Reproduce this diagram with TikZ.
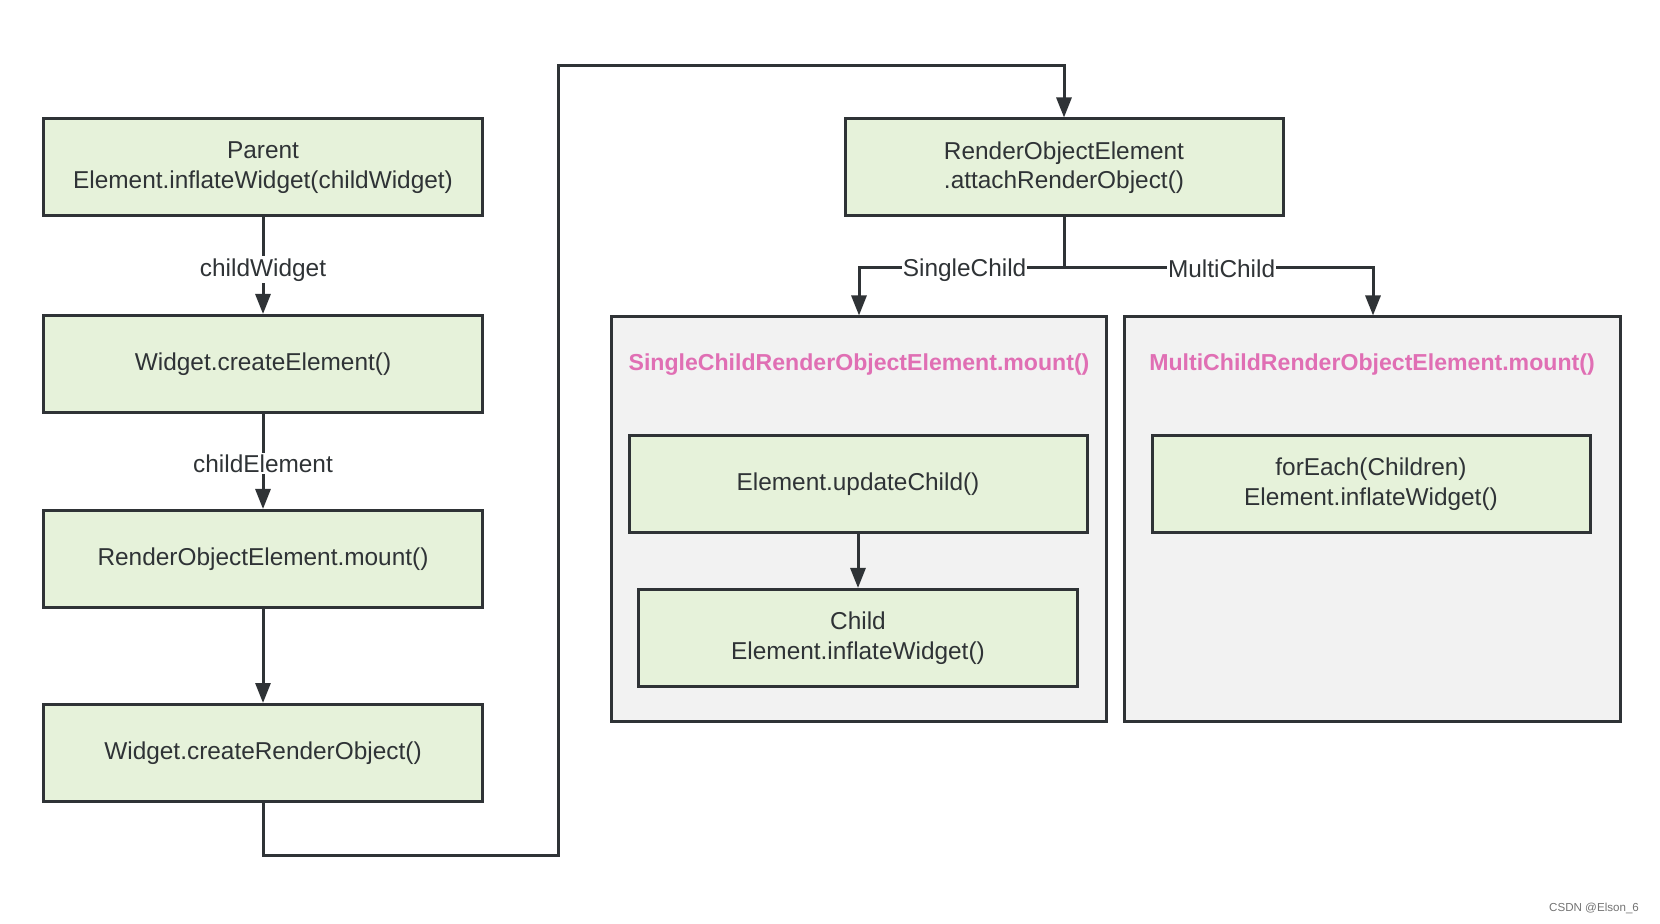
\documentclass[tikz,border=0pt]{standalone}
\usepackage{fontspec}
\setmainfont{Liberation Sans}
\usetikzlibrary{arrows.meta}
\definecolor{boxfill}{HTML}{E6F2DA}
\definecolor{grpfill}{HTML}{F2F2F2}
\definecolor{linec}{HTML}{2F3336}
\definecolor{pinkc}{HTML}{E06FB4}
\tikzset{
  px/.style={x=0.5pt,y=-0.5pt},
  stepbox/.style={draw=linec,line width=1.5pt,fill=boxfill,inner sep=0pt,
    font=\fontsize{12.2}{14.8}\selectfont,text=linec,align=center},
  grpbox/.style={draw=linec,line width=1.5pt,fill=grpfill},
  conn/.style={draw=linec,line width=1.5pt,-{Triangle[length=10pt,width=7.5pt]}},
  plain/.style={draw=linec,line width=1.5pt},
  lbl/.style={fill=white,inner sep=1pt,font=\fontsize{12.2}{14.8}\selectfont,text=linec},
  grptitle/.style={font=\fontsize{11.55}{14}\selectfont\bfseries,text=pinkc,inner sep=0pt}
}
\begin{document}
\begin{tikzpicture}[px]
\useasboundingbox (0,0) rectangle (1660,924);
% left column
\node[stepbox,minimum width=439pt*0.5,minimum height=97pt*0.5] (A) at (263,167.5) {Parent\\Element.inflateWidget(childWidget)};
\node[stepbox,minimum width=439pt*0.5,minimum height=97pt*0.5] (B) at (263,364) {Widget.createElement()};
\node[stepbox,minimum width=439pt*0.5,minimum height=97pt*0.5] (C) at (263,559) {RenderObjectElement.mount()};
\node[stepbox,minimum width=439pt*0.5,minimum height=97pt*0.5] (D) at (263,753) {Widget.createRenderObject()};
% top right
\node[stepbox,minimum width=438pt*0.5,minimum height=97pt*0.5] (E) at (1064,167.5) {RenderObjectElement\\.attachRenderObject()};
% groups
\node[grpbox,minimum width=495pt*0.5,minimum height=404pt*0.5,inner sep=0pt] (S) at (858.5,519) {};
\node[grpbox,minimum width=496pt*0.5,minimum height=404pt*0.5,inner sep=0pt] (M) at (1372,519) {};
\node[grptitle] (ST) at (859,365) {SingleChildRenderObjectElement.mount()};
\node[grptitle] (MT) at (1372,365) {MultiChildRenderObjectElement.mount()};
\node[stepbox,minimum width=458pt*0.5,minimum height=97pt*0.5] (F) at (858,484) {Element.updateChild()};
\node[stepbox,minimum width=439pt*0.5,minimum height=97pt*0.5] (G) at (858,638) {Child\\Element.inflateWidget()};
\node[stepbox,minimum width=438pt*0.5,minimum height=97pt*0.5] (H) at (1371,484) {forEach(Children)\\Element.inflateWidget()};
% connectors
\draw[conn] (A) -- node[lbl,yshift=-2pt] {childWidget} (B);
\draw[conn] (B) -- node[lbl,yshift=-1pt] {childElement} (C);
\draw[conn] (C) -- (D);
\coordinate (r1) at (263,855);
\coordinate (r2) at (558,855);
\coordinate (r3) at (558,66);
\coordinate (r4) at (1064,66);
\draw[conn] (D.south) -- (r1) -- (r2) -- (r3) -- (r4) -- (E.north);
\coordinate (br) at (1064,268);
\coordinate (bl) at (859,268);
\coordinate (bm) at (1373,268);
\draw[plain] (E.south) -- (br);
\draw[conn] (br) -- node[lbl,pos=0.485,inner sep=0.5pt,yshift=-1.2pt] {SingleChild} (bl) -- (S.north -| bl);
\draw[conn] (br) -- node[lbl,pos=0.51,inner sep=0.5pt,yshift=-0.6pt] {MultiChild} (bm) -- (M.north -| bm);
\draw[conn] (F) -- (G);
% watermark
\node[font=\fontsize{5.8}{6.5}\selectfont,text=black!55,anchor=east] (wm) at (1646,908) {CSDN @Elson\_6};
\end{tikzpicture}
\end{document}
